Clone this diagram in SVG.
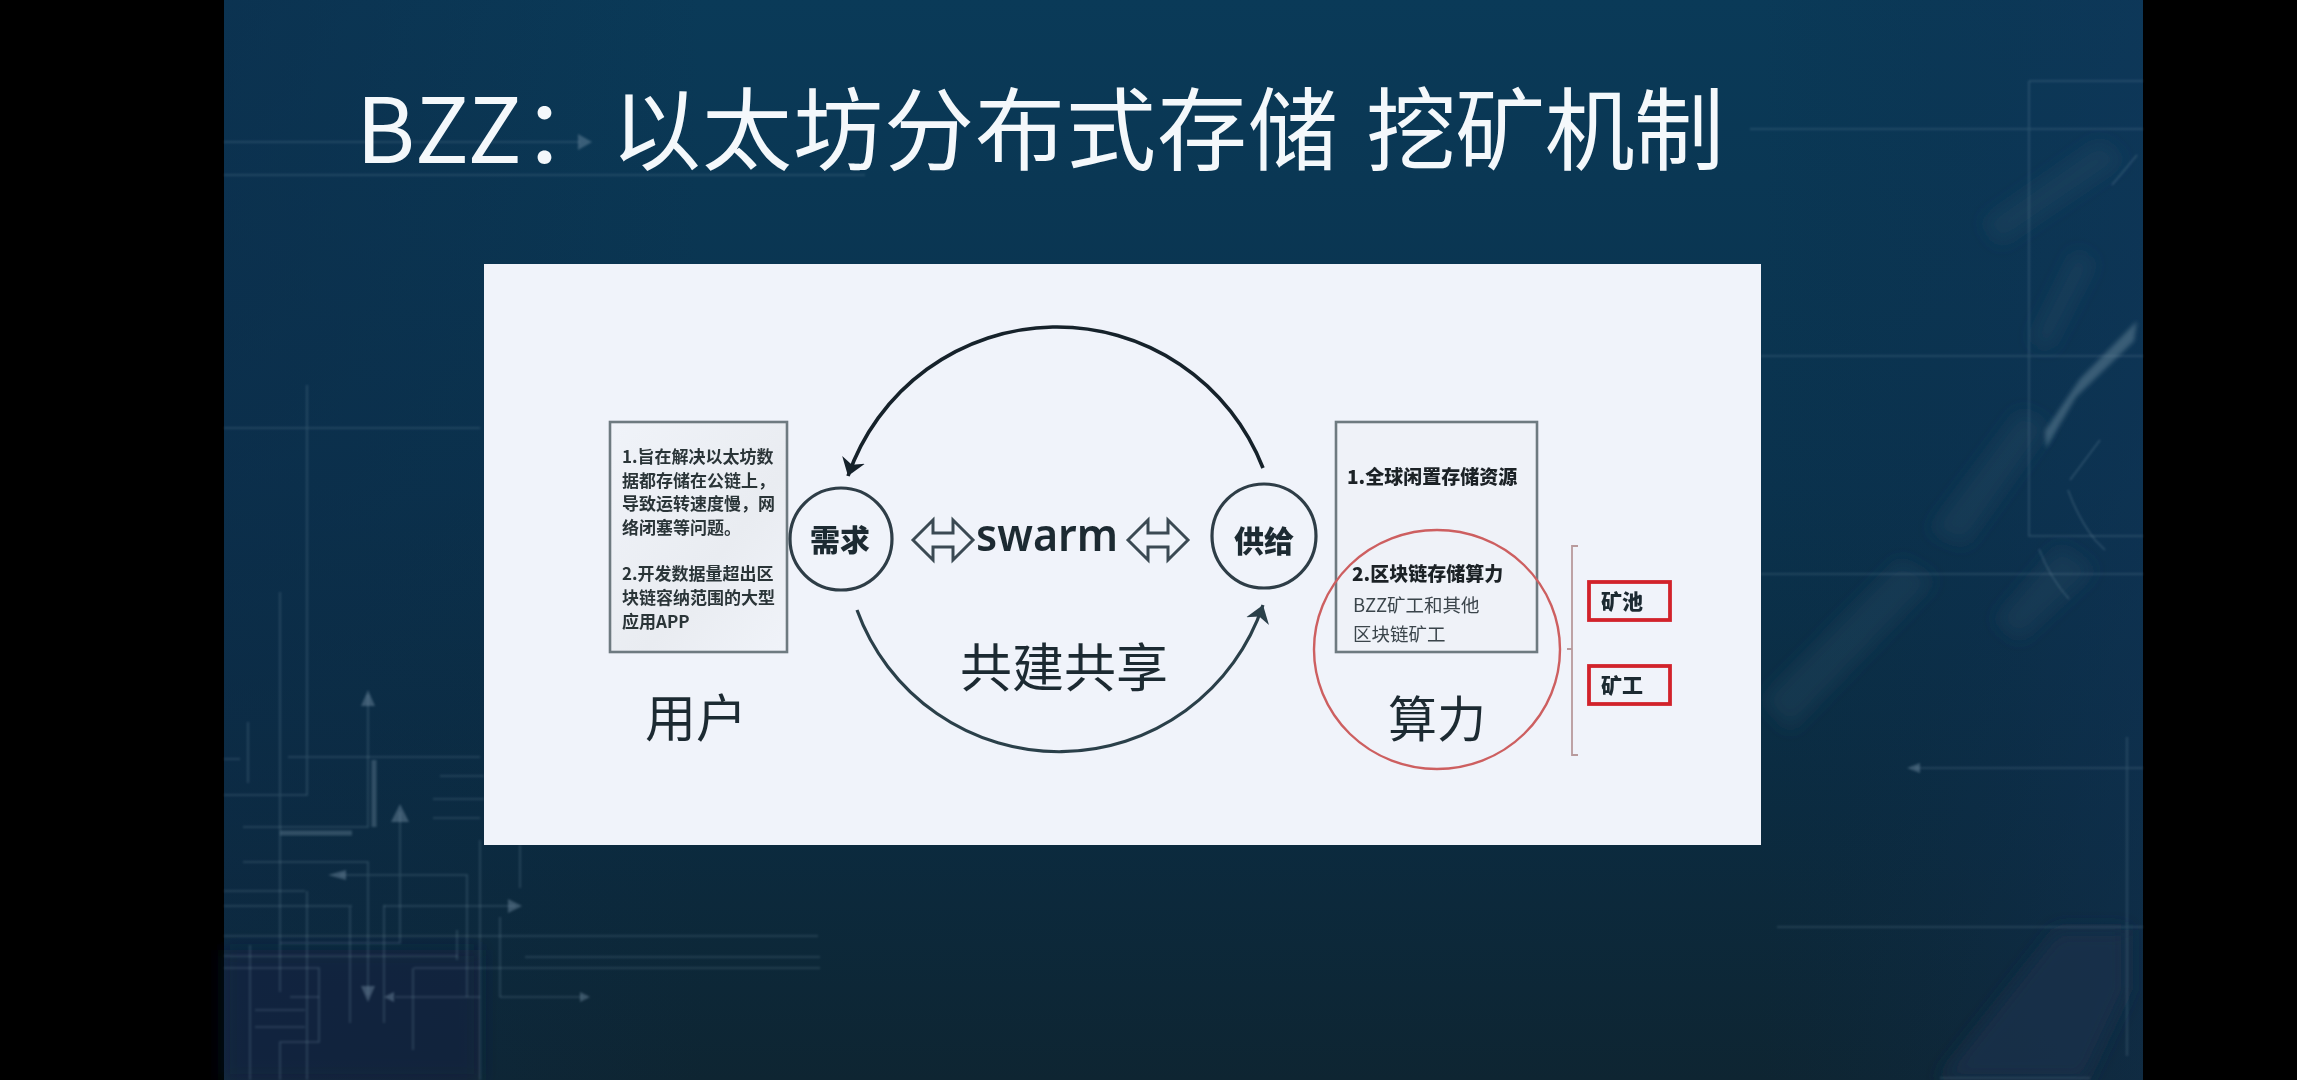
<svg xmlns="http://www.w3.org/2000/svg" width="2297" height="1080" viewBox="0 0 2297 1080">
<style>
text{font-family:"Noto Sans CJK SC","Noto Sans",sans-serif;fill:#1d2a31}
.b{font-weight:900}
.t{fill:#f4f8fb;font-size:90px;font-weight:400}
.s{font-size:17px;font-weight:700;fill:#2b3438}
.m{font-size:19px;font-weight:900;fill:#1c2328}
.r{font-size:18.5px;font-weight:400;fill:#3a444b}
.big{font-size:49px;font-weight:400}
.c{fill:none;stroke:#2e3d46;stroke-width:3.2}
.box{stroke:#6e7a80;stroke-width:2.6}
.red{fill:none;stroke:#d2232c;stroke-width:3.8}
.dbl{fill:none;stroke:#3a4a52;stroke-width:3;stroke-linejoin:miter}
.l path{fill:none;stroke:#7f9cae;stroke-width:1.6;stroke-opacity:.27}
.h{fill:#7f9cae;fill-opacity:.4}
.arc{fill:none;stroke-linecap:butt}
.n{filter:url(#fine)}
</style>
<defs>
<linearGradient id="bg" x1="0" y1="0" x2="0" y2="1">
<stop offset="0" stop-color="#0a3a58"/><stop offset=".45" stop-color="#0a324d"/><stop offset=".75" stop-color="#0b2b40"/><stop offset="1" stop-color="#0e2532"/>
</linearGradient>
<linearGradient id="side" x1="0" y1="0" x2="1" y2="0">
<stop offset="0" stop-color="#0d2a48" stop-opacity=".45"/><stop offset=".25" stop-color="#0d2a48" stop-opacity="0"/><stop offset=".8" stop-color="#0d2a48" stop-opacity="0"/><stop offset="1" stop-color="#12345a" stop-opacity=".4"/>
</linearGradient>
<linearGradient id="lb" x1="0" y1="0" x2="1" y2="1">
<stop offset="0" stop-color="#f0f3f9"/><stop offset=".6" stop-color="#e9ecf1"/><stop offset="1" stop-color="#f0f3f9"/>
</linearGradient>
<marker id="ah" markerUnits="userSpaceOnUse" markerWidth="28" markerHeight="30" refX="17" refY="12" orient="auto" viewBox="0 0 28 30">
<path d="M17,12 L0,0 L5,12 L0,24 Z" fill="context-stroke"/>
</marker>
<path id="dbl" d="M-30,0 L-10,-20 L-10,-7 L10,-7 L10,-20 L30,0 L10,20 L10,7 L-10,7 L-10,20 Z"/>
<filter id="fine" x="-5%" y="-5%" width="110%" height="110%"><feGaussianBlur stdDeviation=".45"/></filter>
<filter id="soft" x="-5%" y="-5%" width="110%" height="110%"><feGaussianBlur stdDeviation=".8"/></filter>
<filter id="mid" x="-20%" y="-20%" width="140%" height="140%"><feGaussianBlur stdDeviation="2"/></filter>
<filter id="wide" x="-30%" y="-30%" width="160%" height="160%"><feGaussianBlur stdDeviation="9"/></filter>
</defs>

<rect x="0" y="0" width="2297" height="1080" fill="#000"/>
<rect x="224" y="0" width="1919" height="1080" fill="url(#bg)"/>
<rect x="224" y="0" width="1919" height="1080" fill="url(#side)"/>

<g id="background-art">
<g filter="url(#wide)" fill="#2a5068" fill-opacity=".3">
<path d="M2100,140 L2125,160 L2000,245 L1982,222 Z"/>
<path d="M2075,250 L2095,262 L2050,350 L2030,340 Z"/>
<path d="M2020,410 L2050,425 L1965,545 L1930,530 Z"/>
<path d="M1900,560 L1935,580 L1790,730 L1762,700 Z"/>
<path d="M2060,545 L2095,570 L2020,640 L1995,620 Z"/>
</g>
<path d="M1938,1080 L2057,930 L2127,930 L2127,990 L2085,1080 Z" fill="#17304a" fill-opacity=".8" filter="url(#wide)"/>
<path d="M224,950 H480 V1080 H224 Z" fill="#13233f" fill-opacity=".55" filter="url(#wide)"/>
<path d="M2137,321 L2134,341 L2076,397 L2046,448 L2045,431 L2080,379 Z" fill="#4d6e84" fill-opacity=".7" filter="url(#mid)"/>
<g class="l" filter="url(#soft)">
<path d="M224,142H580M224,175H865"/>
<path d="M224,428H480M307,385V795H224M280,592V992M248,722V783M288,757H480M224,759H240M440,776H484M433,799H484M433,818H480"/>
<path d="M368,695V827H243M243,862H368V995M400,812V943H280M340,875H467V997M224,891H305M307,891V1080"/>
<path d="M224,906H352M384,906H515M224,936H818M224,956H458M525,957H820M224,968H319V1042H280V1080M414,968H820M413,968V1050"/>
<path d="M250,945V1080M350,907V1023M384,905V1023M480,840V1080M500,917V997M520,845V888M457,930V960"/>
<path d="M395,997H480M500,997H582M290,997H319M255,1010H305M255,1027H305"/>
<path d="M1750,129H2143M1761,356H2143M1761,574H2143M1915,768H2143M1777,927H2143M2029,81H2143M2029,81V536H2143M2127,737V1056M1940,1078H2090"/>
<path d="M2068,490Q2078,518 2095,540L2105,550M2039,549Q2050,578 2069,599M2137,155L2112,185M2100,440L2070,480"/>
</g>
<path d="M374,760V827M280,833H352" fill="none" stroke="#7f9cae" stroke-opacity=".32" stroke-width="5" filter="url(#soft)"/>
<path d="M224,855H278" fill="none" stroke="#7f9cae" stroke-opacity=".36" stroke-width="5" stroke-dasharray="5 2" filter="url(#soft)"/>
<g class="h" filter="url(#soft)">
<path d="M592,142L578,134V150Z"/>
<path d="M368,690L361,706H375Z"/>
<path d="M400,804L391,822H409Z"/>
<path d="M368,1002L361,986H375Z"/>
<path d="M328,875L346,870V880Z"/>
<path d="M522,906L508,899V913Z"/>
<path d="M1907,768L1920,763V773Z"/>
<path d="M384,997L394,992V1002Z"/>
<path d="M590,997L580,992V1002Z"/>
</g>
</g>

<g id="title" class="n">
<text class="t" y="163"><tspan x="356">BZZ</tspan><tspan x="522">：</tspan><tspan x="611" textLength="727">以太坊分布式存储</tspan><tspan x="1366" textLength="358">挖矿机制</tspan></text>
</g>

<rect id="panel" x="484" y="264" width="1277" height="581" fill="#f0f3fa"/>

<g id="connectors" class="n">
<path class="arc" d="M1263,468 A221,221 0 0 0 848,476" stroke="#15212b" stroke-width="3.6" marker-end="url(#ah)"/>
<path class="arc" d="M857,610 A215,215 0 0 0 1263,605" stroke="#2c3f4a" stroke-width="3.2" marker-end="url(#ah)"/>
<use href="#dbl" class="dbl" transform="translate(943,540)"/>
<use href="#dbl" class="dbl" transform="translate(1158,540)"/>
<path d="M1578,546H1572V755H1578M1572,649H1567" fill="none" stroke="#b89a9c" stroke-width="1.8"/>
</g>

<g id="node-user-box" class="n">
<rect class="box" x="610" y="422" width="177" height="230" fill="url(#lb)"/>
<text class="s" x="622" y="463">1.旨在解决以太坊数</text>
<text class="s" x="622" y="487">据都存储在公链上，</text>
<text class="s" x="622" y="510">导致运转速度慢，网</text>
<text class="s" x="622" y="534">络闭塞等问题。</text>
<text class="s" x="622" y="580">2.开发数据量超出区</text>
<text class="s" x="622" y="604">块链容纳范围的大型</text>
<text class="s" x="622" y="628">应用APP</text>
</g>
<g id="node-user-label" class="n"><text class="big" x="645" y="737" style="font-size:51px">用户</text></g>

<g id="node-demand" class="n">
<circle class="c" cx="841" cy="539" r="51"/>
<text class="b" x="840" y="551" font-size="30" text-anchor="middle">需求</text>
</g>

<g id="node-swarm" class="n">
<text x="976" y="551" font-size="45" font-weight="600" textLength="142" lengthAdjust="spacingAndGlyphs" style="font-family:'Noto Sans',sans-serif">swarm</text>
</g>

<g id="node-share" class="n"><text class="big" x="960" y="687" style="font-size:52px">共建共享</text></g>

<g id="node-supply" class="n">
<circle class="c" cx="1264" cy="536" r="52"/>
<text class="b" x="1264" y="552" font-size="30" text-anchor="middle">供给</text>
</g>

<g id="node-power-box" class="n">
<rect class="box" x="1336" y="422" width="201" height="230" fill="#eff2f8"/>
<text class="m" x="1347" y="484">1.全球闲置存储资源</text>
<text class="m" x="1352" y="581">2.区块链存储算力</text>
<text class="r" x="1353" y="612">BZZ矿工和其他</text>
<text class="r" x="1353" y="641">区块链矿工</text>
</g>

<g id="node-power" class="n">
<ellipse cx="1437" cy="649.5" rx="123" ry="119.5" fill="none" stroke="#cd5f60" stroke-width="2.4"/>
<text class="big" x="1388" y="737">算力</text>
</g>

<g id="node-pool" class="n">
<rect class="red" x="1589" y="582" width="81" height="38"/>
<text class="b" x="1601" y="609" font-size="21" fill="#222">矿池</text>
</g>
<g id="node-miner" class="n">
<rect class="red" x="1589" y="666" width="81" height="38"/>
<text class="b" x="1601" y="693" font-size="21" fill="#222">矿工</text>
</g>
</svg>
